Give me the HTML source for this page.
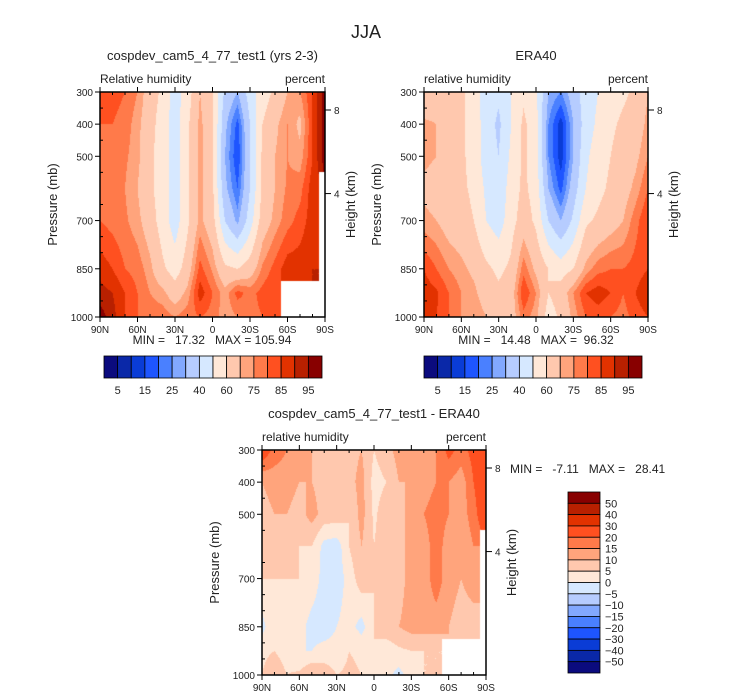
<!DOCTYPE html>
<html><head><meta charset="utf-8">
<style>
html,body{margin:0;padding:0;background:#fff;}
#wrap{position:relative;width:733px;height:699px;overflow:hidden;font-family:"Liberation Sans",sans-serif;}
canvas{position:absolute;}
svg{position:absolute;left:0;top:0;}
text{font-family:"Liberation Sans",sans-serif;fill:#222;white-space:pre;}
</style></head>
<body>
<div id="wrap">
<canvas id="c1" width="225" height="225" style="left:100px;top:92px"></canvas>
<canvas id="c2" width="224" height="225" style="left:424px;top:92px"></canvas>
<canvas id="c3" width="224" height="225" style="left:262px;top:450px"></canvas>
<svg id="ov" width="733" height="699"></svg>
</div>
<script>
// ---- data ----
const lats = [90,80,70,60,50,40,30,20,10,0,-10,-20,-30,-40,-50,-60,-70,-80,-90];
const levels = [300,400,500,600,700,850,925,1000];
const N = NaN;
const modelRH = [
[80,82,80,75,65,58,45,55,70,60,38,30,45,55,62,70,75,85,98],
[80,80,78,72,64,55,45,58,72,62,32,18,40,60,68,75,68,85,98],
[80,78,76,72,62,55,45,58,72,62,30,15,40,62,70,75,72,85,98],
[78,78,75,70,62,55,45,58,72,62,32,20,40,62,70,76,78,88,N],
[80,78,76,72,65,55,45,58,72,64,40,28,45,65,72,78,82,88,N],
[88,85,80,78,72,62,55,65,82,74,62,60,65,76,82,88,88,90,N],
[92,90,85,80,75,72,65,72,88,80,72,82,78,82,85,N,N,N,N],
[98,92,85,80,78,78,75,78,80,78,72,75,78,80,80,N,N,N,N]];
const eraRH = [
[60,62,65,62,55,45,42,50,58,52,30,25,35,45,50,55,58,62,70],
[72,70,66,62,56,45,38,50,62,54,25,12,30,45,52,58,62,65,72],
[72,70,66,62,56,45,40,52,62,54,25,12,30,48,55,60,65,68,75],
[68,66,65,62,58,48,42,55,62,56,30,18,35,50,57,62,66,72,80],
[72,70,66,64,60,50,45,56,65,58,40,30,42,58,62,66,70,78,85],
[85,80,75,72,68,62,58,62,78,68,60,55,60,72,78,80,80,82,85],
[88,86,80,75,72,65,62,65,85,75,60,65,75,85,88,85,80,85,90],
[88,85,80,75,75,70,68,65,78,72,55,62,72,80,82,80,78,82,85]];
const diffRH = [
[25,18,15,12,10,10,5,8,10,5,8,12,10,12,15,22,18,22,28],
[10,12,12,10,10,8,5,8,12,3,5,10,10,12,15,15,12,20,25],
[8,10,10,8,12,8,8,5,12,4,8,8,12,15,18,15,12,18,25],
[5,8,8,5,5,-2,-3,5,10,5,8,8,12,12,18,12,10,15,N],
[5,5,5,5,3,-2,-3,2,8,5,6,8,12,12,18,12,10,12,N],
[-2,5,3,2,-2,-3,0,2,-2,5,8,10,12,12,12,10,8,8,N],
[4,5,3,0,0,2,2,5,4,5,2,4,5,5,5,N,N,N,N],
[5,8,5,6,10,8,5,6,5,4,2,-2,3,5,5,N,N,N,N]];
const rhBounds = [5,10,15,20,25,30,40,50,60,70,75,80,85,90,95];
const rhBarLabels = ["5","15","25","40","60","75","85","95"];
const diffBounds = [-50,-40,-30,-20,-15,-10,-5,0,5,10,15,20,30,40,50];
const xTickLabels = ["90N","60N","30N","0","30S","60S","90S"];
const xTickLats = [90,60,30,0,-30,-60,-90];
const yTickLabels = [300,400,500,700,850,1000];
const heightTicks = [8,4];
const heightPress = [356,616];
const colors = ["#0b0b7e","#0a28a8","#0a3cd6","#1e55ff","#4a80ff","#82a8ff","#b6ccff","#d6e8ff",
"#ffe8d8","#ffc8ae","#ffa47c","#ff7a4a","#ff5020","#e23200","#b82000","#880000"];

function colorFor(v,b){let i=0;while(i<b.length&&v>=b[i])i++;return colors[i];}
function hex(c){return [parseInt(c.substr(1,2),16),parseInt(c.substr(3,2),16),parseInt(c.substr(5,2),16)];}
function sample(data,fx,fy){
  const i0=Math.min(Math.floor(fx),lats.length-2), j0=Math.min(Math.floor(fy),levels.length-2);
  const tx=fx-i0, ty=fy-j0;
  const ni=Math.round(fx), nj=Math.round(fy);
  if(isNaN(data[nj][ni])) return NaN;
  let s=0,w=0;
  [[0,0],[1,0],[0,1],[1,1]].forEach(([a,b])=>{const v=data[j0+b][i0+a];if(!isNaN(v)){const ww=(a?tx:1-tx)*(b?ty:1-ty);s+=v*ww;w+=ww;}});
  return w>0?s/w:NaN;
}
function pIndex(p){for(let j=0;j<levels.length-1;j++){if(p<=levels[j+1])return j+(p-levels[j])/(levels[j+1]-levels[j]);}return levels.length-1;}
function drawField(id,data,bounds){
  const c=document.getElementById(id),ctx=c.getContext('2d'),W=c.width,H=c.height;
  const img=ctx.createImageData(W,H);
  for(let y=0;y<H;y++){const p=300+700*(y+0.5)/H;const fy=pIndex(p);
    for(let x=0;x<W;x++){const lat=90-180*(x+0.5)/W;const fx=(90-lat)/10;
      const v=sample(data,fx,fy);const k=(y*W+x)*4;
      let rgb=[255,255,255];if(!isNaN(v))rgb=hex(colorFor(v,bounds));
      img.data[k]=rgb[0];img.data[k+1]=rgb[1];img.data[k+2]=rgb[2];img.data[k+3]=255;}}
  ctx.putImageData(img,0,0);
}
drawField('c1',modelRH,rhBounds);
drawField('c2',eraRH,rhBounds);
drawField('c3',diffRH,diffBounds);

const ov=document.getElementById('ov');const NS='http://www.w3.org/2000/svg';
function el(tag,attrs,txt){const e=document.createElementNS(NS,tag);for(const k in attrs)e.setAttribute(k,attrs[k]);if(txt!==undefined)e.textContent=txt;ov.appendChild(e);return e;}
function txt(x,y,s,size,anchor,name,rot){const a={x:x,y:y,'font-size':size,'text-anchor':anchor||'middle'};if(rot)a.transform='rotate(-90 '+x+' '+y+')';const e=el('text',a,s);

return e;}

function panel(x0,y0,W,H,title,left,right,pfx,minmax){
  const xs=lat=>x0+(90-lat)/180*W, ys=p=>y0+(p-300)/700*H;
  const r=el('rect',{x:x0,y:y0,width:W,height:H,fill:'none',stroke:'#000','stroke-width':1.5});
  
  
  txt(x0+W/2,y0-32,title,13,'middle',pfx+'-title');
  txt(x0,y0-9,left,12,'start',pfx+'-variable-label');
  txt(x0+W,y0-9,right,12,'end',pfx+'-units-label');
  for(let lat=90;lat>=-90;lat-=10){const x=xs(lat);const major=lat%30===0;
    el('line',{x1:x,x2:x,y1:y0+H,y2:y0+H+(major?5:-3),stroke:'#000'});
    el('line',{x1:x,x2:x,y1:y0,y2:y0+(major?-5:3),stroke:'#000'});}
  xTickLabels.forEach((s,i)=>txt(xs(xTickLats[i]),y0+H+16,s,10,'middle',pfx+'-x-tick-label'));
  yTickLabels.forEach(p=>{el('line',{x1:x0-5,x2:x0,y1:ys(p),y2:ys(p),stroke:'#000'});txt(x0-7,ys(p)+4,String(p),10,'end',pfx+'-y-tick-label');});
  for(let p=350;p<1000;p+=50){if(yTickLabels.indexOf(p)<0&&p!==600)el('line',{x1:x0,x2:x0+3,y1:ys(p),y2:ys(p),stroke:'#000'});}
  heightTicks.forEach((h,i)=>{const y=ys(heightPress[i]);el('line',{x1:x0+W,x2:x0+W+6,y1:y,y2:y,stroke:'#000'});txt(x0+W+9,y+4,String(h),10,'start',pfx+'-height-tick-label');});
  txt(x0-43,y0+H/2,'Pressure (mb)',13,'middle',pfx+'-y-axis-title',true);
  txt(x0+W+30,y0+H/2,'Height (km)',13,'middle',pfx+'-height-axis-title',true);
  if(minmax)txt(minmax[0],minmax[1],minmax[2],12,minmax[3],pfx+'-min-max');
}
txt(366,38,'JJA',18,'middle','figure-title');
panel(100,92,225,225,'cospdev_cam5_4_77_test1 (yrs 2-3)','Relative humidity','percent','model',[212,344,'MIN =   17.32   MAX = 105.94','middle']);
panel(424,92,224,225,'ERA40','relative humidity','percent','era40',[536,344,'MIN =   14.48   MAX =  96.32','middle']);
panel(262,450,224,225,'cospdev_cam5_4_77_test1 - ERA40','relative humidity','percent','diff',[510,473,'MIN =   -7.11   MAX =   28.41','start']);

function hbar(x0,y0,W,H,pfx){const bw=W/colors.length;
  colors.forEach((c,i)=>{const r=el('rect',{x:x0+i*bw,y:y0,width:bw,height:H,fill:c,stroke:'#000','stroke-width':0.8});
  
  });
  rhBarLabels.forEach((s,k)=>txt(x0+(2*k+1)*bw,y0+H+16,s,11,'middle',pfx+'-colorbar-label'));}
hbar(104,356,218,22,'model');hbar(424,356,218,22,'era40');
(function(){const x0=568,y0=492,W=32,H=181,bh=H/colors.length;
  colors.slice().reverse().forEach((c,i)=>{const r=el('rect',{x:x0,y:y0+i*bh,width:W,height:bh,fill:c,stroke:'#000','stroke-width':0.8});
  
  });
  diffBounds.slice().reverse().forEach((v,i)=>txt(x0+W+5,y0+(i+1)*bh+4,String(v).replace('-','\u2212'),11,'start','diff-colorbar-label'));})();
</script>
</body></html>
